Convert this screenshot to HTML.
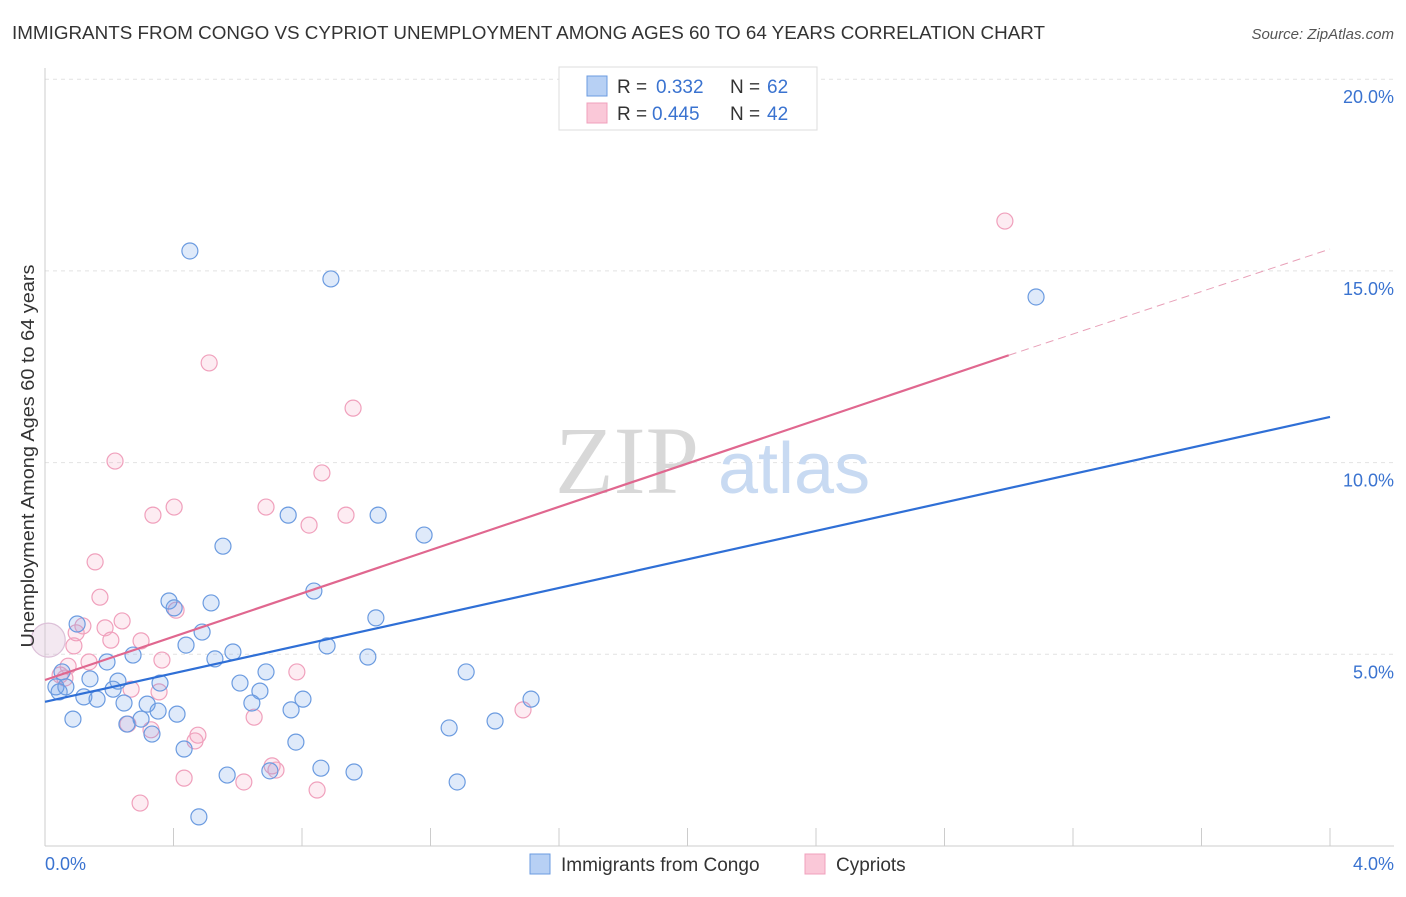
<!DOCTYPE html>
<html><head><meta charset="utf-8"><style>
body{margin:0;background:#fff;font-family:"Liberation Sans",sans-serif}
</style></head><body>
<svg width="1406" height="892" viewBox="0 0 1406 892" xmlns="http://www.w3.org/2000/svg">
<text x="12" y="39" font-size="18" fill="#333" textLength="1033" lengthAdjust="spacingAndGlyphs">IMMIGRANTS FROM CONGO VS CYPRIOT UNEMPLOYMENT AMONG AGES 60 TO 64 YEARS CORRELATION CHART</text>
<text x="1394" y="39" font-size="15" fill="#555" text-anchor="end" font-style="italic">Source: ZipAtlas.com</text>
<g id="grid"></g>
<g>
<text x="555" y="493" font-size="96" font-family="Liberation Serif,serif" fill="#d8d8d8">ZIP</text>
<text x="718" y="493" font-size="72" fill="#c8daf2">atlas</text>
</g>
<g id="axes"></g>
<g id="marks"></g>
<text x="34" y="456" font-size="18" fill="#333" text-anchor="middle" textLength="383" lengthAdjust="spacingAndGlyphs" transform="rotate(-90 34 456)">Unemployment Among Ages 60 to 64 years</text>
<text x="45" y="870" font-size="18" fill="#3a73d0">0.0%</text>
<text x="1394" y="870" font-size="18" fill="#3a73d0" text-anchor="end">4.0%</text>
<g>
<rect x="559" y="67" width="258" height="63" fill="#fff" stroke="#ddd"/>
<rect x="587" y="76" width="20" height="20" fill="#b7d0f4" stroke="#6b9be0"/>
<rect x="587" y="103" width="20" height="20" fill="#fac8d8" stroke="#f0a0bc"/>
<text x="617" y="93" font-size="19" fill="#333">R =</text>
<text x="656" y="93" font-size="19" fill="#3a73d0">0.332</text>
<text x="730" y="93" font-size="19" fill="#333">N =</text>
<text x="767" y="93" font-size="19" fill="#3a73d0">62</text>
<text x="617" y="120" font-size="19" fill="#333">R =</text>
<text x="652" y="120" font-size="19" fill="#3a73d0">0.445</text>
<text x="730" y="120" font-size="19" fill="#333">N =</text>
<text x="767" y="120" font-size="19" fill="#3a73d0">42</text>
</g>
<g>
<rect x="530" y="854" width="20" height="20" fill="#b7d0f4" stroke="#6b9be0"/>
<text x="561" y="871" font-size="19" fill="#333">Immigrants from Congo</text>
<rect x="805" y="854" width="20" height="20" fill="#fac8d8" stroke="#f0a0bc"/>
<text x="836" y="871" font-size="19" fill="#333">Cypriots</text>
</g>
</svg>
<script>
const yTicks=[5,10,15,20];
const yTickLabels=["5.0%","10.0%","15.0%","20.0%"];
const xTicks=[0.4,0.8,1.2,1.6,2.0,2.4,2.8,3.2,3.6,4.0];
const blueX=[0.451,0.890,3.085,0.554,0.757,1.037,1.180,0.837,1.030,0.386,0.517,0.402,0.100,0.489,0.439,0.585,0.878,1.005,0.274,0.193,0.529,0.688,1.311,0.140,0.227,0.607,0.358,0.034,0.065,0.044,0.121,0.162,0.212,0.669,0.803,0.644,0.246,0.318,0.352,0.766,0.411,1.513,0.087,0.299,0.255,0.333,1.258,1.401,0.781,0.433,0.859,0.962,0.567,0.700,1.283,0.479,0.053];
const blueY=[15.52,14.79,14.32,7.82,8.63,8.63,8.11,6.65,5.95,6.39,6.34,6.21,5.79,5.58,5.24,5.06,5.22,4.93,4.98,4.80,4.88,4.54,4.54,4.36,4.30,4.25,4.25,4.15,4.15,4.02,3.89,3.83,4.09,4.04,3.83,3.73,3.73,3.70,3.52,3.55,3.44,3.83,3.31,3.31,3.18,2.92,3.08,3.26,2.71,2.53,2.03,1.93,1.85,1.96,1.67,0.76,4.54];
const pinkX=[2.988,0.511,0.959,0.218,0.862,0.402,0.336,0.688,0.937,0.822,0.156,0.171,0.408,0.240,0.118,0.187,0.097,0.299,0.205,0.090,0.364,0.072,0.137,0.784,0.047,0.268,0.355,0.062,0.258,0.651,0.476,0.467,0.330,1.488,0.707,0.719,0.433,0.619,0.847,0.296];
const pinkY=[16.30,12.60,11.42,10.04,9.73,8.84,8.63,8.84,8.63,8.37,7.41,6.49,6.15,5.87,5.74,5.69,5.56,5.35,5.37,5.22,4.85,4.69,4.80,4.54,4.46,4.09,4.02,4.38,3.18,3.36,2.89,2.74,3.03,3.55,2.09,1.98,1.77,1.67,1.46,1.12];
const bigX=[0.01], bigY=[5.37];
const blueLine=[[0,3.76],[4.0,11.19]];
const pinkLine=[[0,4.33],[3.0,12.8],[4.0,15.57]];
const NS="http://www.w3.org/2000/svg";
const sx=v=>45+v*321.25, sy=v=>846-v*38.34;
function mk(tag,attrs,parent){const e=document.createElementNS(NS,tag);for(const k in attrs)e.setAttribute(k,attrs[k]);document.getElementById(parent).appendChild(e);return e;}
yTicks.forEach((t,i)=>{
 const l=mk('line',{x1:45,x2:1394,y1:sy(t),y2:sy(t),stroke:'#e2e2e2','stroke-dasharray':'4,4'},'grid');
 
 
 const tx=mk('text',{x:1394,y:sy(t)+24,'font-size':18,fill:'#3a73d0','text-anchor':'end'},'axes');
 tx.textContent=yTickLabels[i];
 
 
});
let ax=mk('line',{x1:45,x2:45,y1:68,y2:846,stroke:'#ccc'},'axes');


ax=mk('line',{x1:45,x2:1394,y1:846,y2:846,stroke:'#ccc'},'axes');


xTicks.forEach(t=>{
 const l=mk('line',{x1:sx(t),x2:sx(t),y1:828,y2:846,stroke:'#ccc'},'axes');
 
 
});
function pts(xs,ys,fill,stroke,name,r){xs.forEach((x,i)=>{
 const c=mk('circle',{cx:sx(x),cy:sy(ys[i]),r:r,fill:fill,stroke:stroke,'stroke-width':1.2},'marks');
 
 
});}
pts(bigX,bigY,'rgba(220,190,215,0.35)','#dcc0d8','point-large',17);
pts(pinkX,pinkY,'rgba(245,160,190,0.2)','#f0a0bc','point-cypriots',8);
pts(blueX,blueY,'rgba(110,160,230,0.22)','#6b9be0','point-congo',8);
let ln=mk('line',{x1:sx(blueLine[0][0]),y1:sy(blueLine[0][1]),x2:sx(blueLine[1][0]),y2:sy(blueLine[1][1]),stroke:'#2f6fd6','stroke-width':2.2},'marks');


ln=mk('line',{x1:sx(pinkLine[0][0]),y1:sy(pinkLine[0][1]),x2:sx(pinkLine[1][0]),y2:sy(pinkLine[1][1]),stroke:'#e0678f','stroke-width':2.2},'marks');


ln=mk('line',{x1:sx(pinkLine[1][0]),y1:sy(pinkLine[1][1]),x2:sx(pinkLine[2][0]),y2:sy(pinkLine[2][1]),stroke:'#e8a0b8','stroke-width':1,'stroke-dasharray':'8,5'},'marks');


</script>
</body></html>
